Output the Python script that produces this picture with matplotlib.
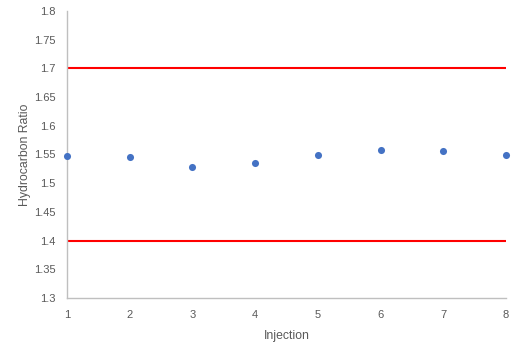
import matplotlib
matplotlib.use("Agg")
import matplotlib.pyplot as plt

injection = [1, 2, 3, 4, 5, 6, 7, 8]
ratio = [1.547, 1.545, 1.529, 1.535, 1.549, 1.557, 1.556, 1.550]
upper_limit = 1.7
lower_limit = 1.4
y_ticks = [1.3, 1.35, 1.4, 1.45, 1.5, 1.55, 1.6, 1.65, 1.7, 1.75, 1.8]
y_tick_labels = ["1.3", "1.35", "1.4", "1.45", "1.5", "1.55", "1.6", "1.65", "1.7", "1.75", "1.8"]

plt.rcParams['font.family'] = ['Liberation Sans', 'DejaVu Sans']

fig = plt.figure(figsize=(5.18, 3.52), dpi=100)
ax = fig.add_axes([67/518, 1-298/352, (506-67)/518, (298-11)/352])

ax.axhline(upper_limit, color='#ff0000', lw=1.5, zorder=2)
ax.axhline(lower_limit, color='#ff0000', lw=1.5, zorder=2)
ax.scatter(injection, ratio, s=26, color='#4472C4', zorder=3, linewidths=0, clip_on=False)

ax.set_xlim(1, 8)
ax.set_ylim(1.3, 1.8)
ax.set_yticks(y_ticks)
ax.set_yticklabels(y_tick_labels)
ax.set_xticks(injection)

for s in ['top', 'right']:
    ax.spines[s].set_visible(False)
for s in ['left', 'bottom']:
    ax.spines[s].set_color('#bfbfbf')
    ax.spines[s].set_linewidth(1.0)

ax.tick_params(length=0, labelsize=8, labelcolor='#595959')
ax.tick_params(axis='x', pad=9)
ax.tick_params(axis='y', pad=8)
ax.set_xlabel('Injection', fontsize=8.8, color='#595959', labelpad=7)
ax.set_ylabel('Hydrocarbon Ratio', fontsize=8.8, color='#595959', labelpad=2)

fig.savefig('out.png', dpi=100)
